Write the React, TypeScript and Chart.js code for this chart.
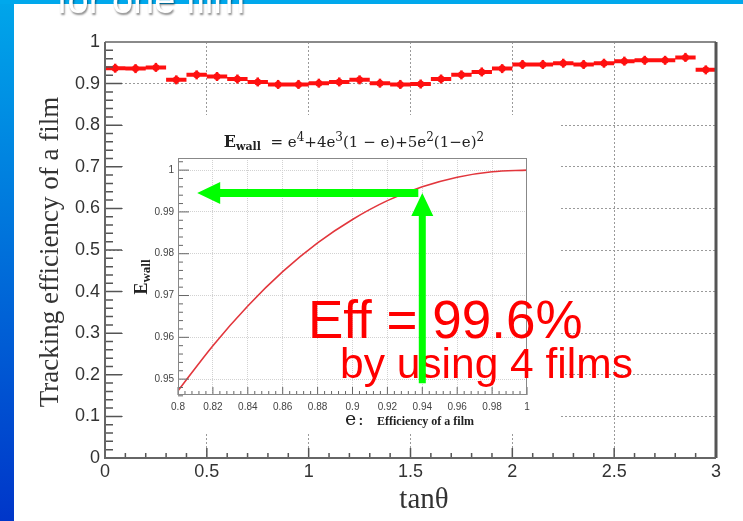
import React, { useEffect, useRef } from 'react';
import { Chart, registerables } from 'chart.js';

Chart.register(...registerables);

// ---------- main histogram data ----------
const binCenters = [
  0.05, 0.15, 0.25, 0.35, 0.45, 0.55, 0.65, 0.75, 0.85, 0.95,
  1.05, 1.15, 1.25, 1.35, 1.45, 1.55, 1.65, 1.75, 1.85, 1.95,
  2.05, 2.15, 2.25, 2.35, 2.45, 2.55, 2.65, 2.75, 2.85, 2.95,
];
const trackingEff = [
  0.937, 0.936, 0.939, 0.909, 0.921, 0.917, 0.911, 0.904, 0.898, 0.898,
  0.901, 0.904, 0.909, 0.901, 0.898, 0.899, 0.911, 0.921, 0.928, 0.936,
  0.946, 0.946, 0.949, 0.946, 0.949, 0.954, 0.956, 0.956, 0.963, 0.933,
];
const binHalfWidth = 0.05;

// ---------- inset curve data ----------
const filmEff = [0.8, 0.82, 0.84, 0.86, 0.88, 0.9, 0.92, 0.94, 0.96, 0.98, 1.0];
const wallEff = [0.9472, 0.958, 0.9675, 0.9757, 0.9826, 0.9882, 0.9927, 0.996, 0.9983, 0.9996, 1.0];

// ---------- annotation anchors (inset data space) ----------
const arrowLevel = 0.9945;
const arrowTipE = 0.811;
const arrowE = 0.94;
const arrowBottom = 0.949;

const SANS = '"Liberation Sans", Arial, sans-serif';
const SERIF = '"Liberation Serif", "Times New Roman", serif';
const DSERIF = '"DejaVu Serif", serif';

const fmt = (v: number) => String(+Number(v).toFixed(3));

type Piece = { t: string; font: string; dy: number };
function drawRich(ctx: CanvasRenderingContext2D, pieces: Piece[], x0: number, baseline: number, center: boolean) {
  let total = 0;
  for (const p of pieces) { ctx.font = p.font; total += ctx.measureText(p.t).width; }
  let x = center ? x0 - total / 2 : x0;
  ctx.textAlign = 'left';
  ctx.textBaseline = 'alphabetic';
  for (const p of pieces) {
    ctx.font = p.font;
    ctx.fillText(p.t, x, baseline + p.dy);
    x += ctx.measureText(p.t).width;
  }
}

const mainDecor = {
  id: 'mainDecor',
  afterDraw(chart: any) {
    const { ctx, chartArea: a, scales } = chart;
    const x = scales.x, y = scales.y;
    ctx.save();
    ctx.strokeStyle = '#555';
    ctx.lineWidth = 1.5;
    ctx.beginPath();
    for (let i = 0; i <= 50; i++) {
      const py = y.getPixelForValue(i * 0.02);
      const len = i % 5 === 0 ? 17 : 8;
      ctx.moveTo(a.left, py); ctx.lineTo(a.left + len, py);
    }
    for (let i = 0; i <= 30; i++) {
      const px = x.getPixelForValue(i * 0.1);
      const len = i % 5 === 0 ? 10 : 5;
      ctx.moveTo(px, a.bottom); ctx.lineTo(px, a.bottom - len);
    }
    ctx.stroke();
    // frame
    ctx.strokeStyle = '#8a8a8a'; ctx.lineWidth = 2;
    ctx.beginPath(); ctx.moveTo(a.left, a.top); ctx.lineTo(a.right, a.top); ctx.stroke();
    ctx.strokeStyle = '#555'; ctx.lineWidth = 3;
    ctx.beginPath(); ctx.moveTo(a.right, a.top); ctx.lineTo(a.right, a.bottom); ctx.stroke();
    ctx.strokeStyle = '#666'; ctx.lineWidth = 2;
    ctx.beginPath(); ctx.moveTo(a.left, a.top); ctx.lineTo(a.left, a.bottom); ctx.lineTo(a.right, a.bottom); ctx.stroke();
    // axis titles
    ctx.fillStyle = '#333';
    ctx.font = `27px ${SERIF}`;
    ctx.textAlign = 'center';
    ctx.textBaseline = 'middle';
    ctx.save();
    ctx.translate(51, 252);
    ctx.rotate(-Math.PI / 2);
    ctx.fillText('Tracking efficiency of a film', 0, 0);
    ctx.restore();
    ctx.font = `29px ${SERIF}`;
    ctx.fillText('tanθ', 424, 500);
    ctx.restore();
  },
};

const insetDecor = {
  id: 'insetDecor',
  beforeDraw(chart: any) {
    const { ctx, chartArea: a } = chart;
    ctx.save();
    ctx.fillStyle = '#ffffff';
    ctx.fillRect(a.left - 55, a.top - 43, a.right - a.left + 89, a.bottom - a.top + 81);
    ctx.restore();
  },
  afterDraw(chart: any) {
    const { ctx, chartArea: a, scales } = chart;
    const x = scales.x, y = scales.y;
    ctx.save();
    // ticks
    ctx.strokeStyle = '#666';
    ctx.lineWidth = 1;
    ctx.beginPath();
    for (let i = 473; i <= 501; i++) {
      const py = y.getPixelForValue(i * 0.002);
      const len = i % 5 === 0 ? 11 : 5;
      ctx.moveTo(a.left, py); ctx.lineTo(a.left + len, py);
    }
    for (let i = 200; i <= 250; i++) {
      const px = x.getPixelForValue(i * 0.004);
      const len = i % 5 === 0 ? 8 : 4;
      ctx.moveTo(px, a.bottom); ctx.lineTo(px, a.bottom - len);
    }
    ctx.stroke();
    ctx.strokeStyle = '#888';
    ctx.strokeRect(a.left + 0.5, a.top + 0.5, a.right - a.left - 1, a.bottom - a.top - 1);

    // inset title
    ctx.fillStyle = '#222';
    drawRich(ctx, [
      { t: 'E', font: `bold 16px ${DSERIF}`, dy: 0 },
      { t: 'wall', font: `bold 11px ${DSERIF}`, dy: 3 },
      { t: '  = e', font: `15px ${DSERIF}`, dy: 0 },
      { t: '4', font: `12px ${DSERIF}`, dy: -6 },
      { t: '+4e', font: `15px ${DSERIF}`, dy: 0 },
      { t: '3', font: `12px ${DSERIF}`, dy: -6 },
      { t: '(1 − e)+5e', font: `15px ${DSERIF}`, dy: 0 },
      { t: '2', font: `12px ${DSERIF}`, dy: -6 },
      { t: '(1−e)', font: `15px ${DSERIF}`, dy: 0 },
      { t: '2', font: `12px ${DSERIF}`, dy: -6 },
    ], 354, 147, true);

    // inset y title
    ctx.save();
    ctx.translate(147, 277);
    ctx.rotate(-Math.PI / 2);
    drawRich(ctx, [
      { t: 'E', font: `bold 18px ${SERIF}`, dy: 0 },
      { t: 'wall', font: `bold 13px ${SERIF}`, dy: 3 },
    ], 0, 0, true);
    ctx.restore();

    // inset x title
    ctx.font = `19px ${DSERIF}`;
    ctx.textAlign = 'left';
    ctx.textBaseline = 'alphabetic';
    ctx.fillText('e', 345, 425);
    ctx.font = `17px ${DSERIF}`;
    ctx.fillText(':', 358, 425);
    ctx.font = `bold 12px ${SERIF}`;
    ctx.fillText('Efficiency of a film', 377, 425);

    // red annotation text
    ctx.fillStyle = '#ff0000';
    ctx.font = `53px ${SANS}`;
    ctx.fillText('Eff = 99.6%', 308, 338);
    ctx.font = `42.5px ${SANS}`;
    ctx.fillText('by using 4 films', 340, 378);

    // green arrows
    const yL = y.getPixelForValue(arrowLevel);
    const xTip = x.getPixelForValue(arrowTipE);
    const xJ = x.getPixelForValue(arrowE);
    const yB = y.getPixelForValue(arrowBottom);
    const headLen = 23, headHalf = 11, shaft = 4;
    ctx.fillStyle = '#00ff00';
    // horizontal arrow
    ctx.beginPath();
    ctx.moveTo(xTip, yL);
    ctx.lineTo(xTip + headLen, yL - headHalf);
    ctx.lineTo(xTip + headLen, yL - shaft);
    ctx.lineTo(xJ - 4, yL - shaft);
    ctx.lineTo(xJ - 4, yL + shaft);
    ctx.lineTo(xTip + headLen, yL + shaft);
    ctx.lineTo(xTip + headLen, yL + headHalf);
    ctx.closePath();
    ctx.fill();
    // vertical arrow
    const s2 = 3.5;
    ctx.beginPath();
    ctx.moveTo(xJ, yL);
    ctx.lineTo(xJ + headHalf, yL + headLen);
    ctx.lineTo(xJ + s2, yL + headLen);
    ctx.lineTo(xJ + s2, yB);
    ctx.lineTo(xJ - s2, yB);
    ctx.lineTo(xJ - s2, yL + headLen);
    ctx.lineTo(xJ - headHalf, yL + headLen);
    ctx.closePath();
    ctx.fill();
    ctx.restore();
  },
};

export default function App() {
  const mainRef = useRef<HTMLCanvasElement | null>(null);
  const insetRef = useRef<HTMLCanvasElement | null>(null);

  useEffect(() => {
    if (!mainRef.current || !insetRef.current) return;

    const segData: any[] = [];
    binCenters.forEach((c, i) => {
      segData.push({ x: c - binHalfWidth, y: trackingEff[i] });
      segData.push({ x: c + binHalfWidth, y: trackingEff[i] });
      segData.push({ x: c + binHalfWidth, y: null });
    });
    const pts = binCenters.map((c, i) => ({ x: c, y: trackingEff[i] }));

    const mainChart = new Chart(mainRef.current, {
      type: 'line',
      data: {
        datasets: [
          { data: segData, borderColor: '#ff1010', borderWidth: 4, pointRadius: 0, spanGaps: false, tension: 0 } as any,
          { data: pts, showLine: false, pointStyle: 'circle', pointRadius: 3.5, pointBackgroundColor: '#ff1010', pointBorderWidth: 0 } as any,
          { data: pts, showLine: false, pointStyle: 'line', pointRotation: 90, pointRadius: 4.5, pointBorderColor: '#ff1010', pointBorderWidth: 2.5 } as any,
        ],
      },
      options: {
        responsive: false,
        animation: false,
        events: [],
        layout: { padding: { top: 42, right: 27, left: 0, bottom: 0 } },
        plugins: { legend: { display: false }, tooltip: { enabled: false }, title: { display: false } },
        scales: {
          x: {
            type: 'linear', min: 0, max: 3,
            afterFit: (s: any) => { s.height = 63; },
            ticks: { stepSize: 0.5, color: '#333', font: { family: SANS, size: 18 }, padding: 3, maxRotation: 0, callback: (v: any) => fmt(v) },
            grid: { drawTicks: false, lineWidth: 1, color: (c: any) => (c.tick && (c.tick.value <= 0 || c.tick.value >= 3) ? 'rgba(0,0,0,0)' : '#9a9a9a') },
            border: { display: false, dash: [2, 2] },
          },
          y: {
            type: 'linear', min: 0, max: 1,
            afterFit: (s: any) => { s.width = 105; },
            ticks: { stepSize: 0.1, color: '#333', font: { family: SANS, size: 18 }, padding: 5, callback: (v: any) => fmt(v) },
            grid: { drawTicks: false, lineWidth: 1, color: (c: any) => (c.tick && (c.tick.value <= 0 || c.tick.value >= 1) ? 'rgba(0,0,0,0)' : '#9a9a9a') },
            border: { display: false, dash: [2, 2] },
          },
        },
      },
      plugins: [mainDecor],
    });

    const insetChart = new Chart(insetRef.current, {
      type: 'line',
      data: {
        datasets: [
          {
            data: filmEff.map((e, i) => ({ x: e, y: wallEff[i] })),
            borderColor: '#e2363c', borderWidth: 1.6, pointRadius: 0, cubicInterpolationMode: 'monotone',
          } as any,
        ],
      },
      options: {
        responsive: false,
        animation: false,
        events: [],
        layout: { padding: { top: 158, right: 216, left: 0, bottom: 106 } },
        plugins: { legend: { display: false }, tooltip: { enabled: false }, title: { display: false } },
        scales: {
          x: {
            type: 'linear', min: 0.8, max: 1,
            afterFit: (s: any) => { s.height = 20; },
            ticks: { stepSize: 0.02, includeBounds: false, color: '#444', font: { family: SANS, size: 10 }, padding: 6, maxRotation: 0, autoSkip: false, callback: (v: any) => fmt(v) },
            grid: { drawTicks: false, lineWidth: 1, color: (c: any) => (c.tick && (c.tick.value <= 0.8 || c.tick.value >= 1) ? 'rgba(0,0,0,0)' : '#d2d2d2') },
            border: { display: false, dash: [1, 1] },
          },
          y: {
            type: 'linear', min: 0.9462, max: 1.0029,
            afterFit: (s: any) => { s.width = 178; },
            ticks: { stepSize: 0.01, includeBounds: false, color: '#444', font: { family: SANS, size: 10 }, padding: 4, callback: (v: any) => fmt(v) },
            grid: { drawTicks: false, lineWidth: 1, color: '#d2d2d2' },
            border: { display: false, dash: [1, 1] },
          },
        },
      },
      plugins: [insetDecor],
    });

    return () => { mainChart.destroy(); insetChart.destroy(); };
  }, []);

  return (
    <div style={{ position: 'fixed', left: 0, top: 0, width: 743, height: 521, background: '#ffffff', overflow: 'hidden' }}>
      <div style={{ position: 'absolute', left: 0, top: 0, width: 14, height: 521, background: 'linear-gradient(#00a6ea, #0036c9)' }} />
      <div style={{ position: 'absolute', left: 0, top: 0, width: 743, height: 4, background: '#00a8ec' }} />
      <canvas ref={mainRef} width={743} height={521} style={{ position: 'absolute', left: 0, top: 0 }} />
      <canvas ref={insetRef} width={743} height={521} style={{ position: 'absolute', left: 0, top: 0 }} />
      <div style={{ position: 'absolute', left: 57, top: -19, fontFamily: SANS, fontSize: 38, lineHeight: '38px', color: '#ffffff', textShadow: '1px 2px 2px rgba(0,0,0,0.45)', whiteSpace: 'nowrap' }}>
        for one film
      </div>
    </div>
  );
}
